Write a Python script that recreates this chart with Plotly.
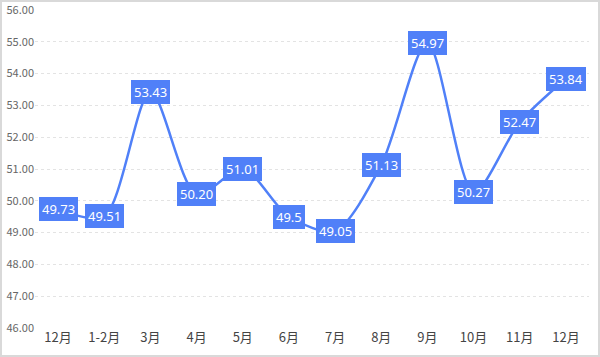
import plotly.graph_objects as go

categories = ["12月", "1-2月", "3月", "4月", "5月", "6月", "7月", "8月", "9月", "10月", "11月", "12月 "]
tick_text = ["12月", "1-2月", "3月", "4月", "5月", "6月", "7月", "8月", "9月", "10月", "11月", "12月"]
values = [49.73, 49.51, 53.43, 50.20, 51.01, 49.5, 49.05, 51.13, 54.97, 50.27, 52.47, 53.84]
label_text = ["49.73", "49.51", "53.43", "50.20", "51.01", "49.5", "49.05", "51.13", "54.97", "50.27", "52.47", "53.84"]
y_ticks = [46, 47, 48, 49, 50, 51, 52, 53, 54, 55, 56]

blue = "#5080f8"
W, H = 600, 357
ml, mr, mt, mb = 35, 11, 10, 29
pw, ph = W - ml - mr, H - mt - mb

x_idx = list(range(len(categories)))

fig = go.Figure()
fig.add_trace(go.Scatter(
    x=x_idx, y=values, mode="lines",
    line=dict(color=blue, width=2.5, shape="spline", smoothing=0.8),
    hoverinfo="skip", showlegend=False,
))

for xi, v, t in zip(x_idx, values, label_text):
    fig.add_annotation(
        x=xi, y=v, text=t, showarrow=False, xanchor="center", yanchor="middle",
        bgcolor=blue, borderpad=2, bordercolor=blue, borderwidth=1,
        font=dict(color="white", size=13, family="Noto Sans"),
    )

fig.add_shape(
    type="rect", xref="paper", yref="paper",
    x0=(1 - ml) / pw, x1=(W - 1 - ml) / pw,
    y0=(1 - mb) / ph, y1=(mt + ph - 1) / ph,
    line=dict(color="#d9d9d9", width=2), layer="below",
)

fig.update_layout(
    width=W, height=H,
    margin=dict(l=ml, r=mr, t=mt, b=mb, autoexpand=False),
    paper_bgcolor="white", plot_bgcolor="white",
    font=dict(family="Noto Sans CJK SC"),
    xaxis=dict(
        tickmode="array", tickvals=x_idx, ticktext=tick_text,
        range=[-0.5, len(categories) - 0.5], automargin=False,
        showgrid=False, zeroline=False, showline=False, ticks="",
        tickfont=dict(size=13, color="#444"),
    ),
    yaxis=dict(
        range=[46, 56], tickmode="array", tickvals=y_ticks, automargin=False,
        tickformat=".2f", showgrid=True, gridcolor="#e3e3e3", griddash="3px,3px",
        gridwidth=1, zeroline=False, showline=False, ticks="",
        tickfont=dict(size=11, color="#666"),
    ),
)

fig.write_html(
    "out.html",
    config={"displayModeBar": False},
    post_script="document.body.style.margin='0';document.body.style.overflow='hidden';",
)
